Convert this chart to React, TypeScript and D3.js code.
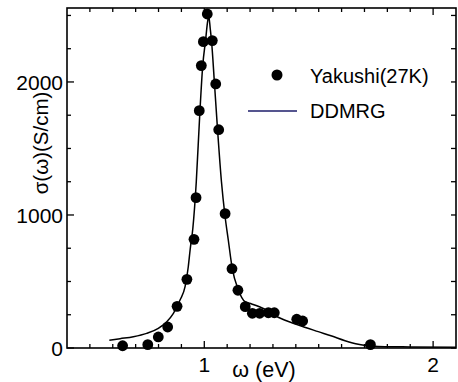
import React from "react";
import * as d3 from "d3";

const expOmega = [0.643, 0.753, 0.799, 0.84, 0.881, 0.924, 0.955, 0.964, 0.978, 0.987, 0.996, 1.013, 1.035, 1.05, 1.063, 1.091, 1.121, 1.147, 1.179, 1.21, 1.242, 1.28, 1.306, 1.404, 1.43, 1.726];
const expSigma = [17, 25, 83, 158, 313, 516, 817, 1130, 1784, 2123, 2303, 2511, 2311, 1985, 1641, 1010, 596, 434, 311, 261, 261, 265, 265, 216, 203, 25];

const thOmega = [0.585, 0.632, 0.69, 0.748, 0.799, 0.836, 0.865, 0.894, 0.916, 0.93, 0.938, 0.95, 0.965, 0.98, 0.993, 1.006, 1.015, 1.02, 1.026, 1.032, 1.044, 1.058, 1.075, 1.09, 1.105, 1.122, 1.149, 1.178, 1.207, 1.265, 1.323, 1.411, 1.498, 1.557, 1.615, 1.673, 1.732, 1.79, 1.9, 2.1];
const thSigma = [58, 70, 85, 110, 148, 198, 261, 361, 461, 611, 737, 900, 1250, 1750, 2120, 2320, 2460, 2490, 2400, 2300, 2000, 1640, 1250, 1000, 810, 600, 436, 348, 331, 291, 231, 173, 123, 90, 55, 28, 15, 10, 8, 5];

const xTickLabels = [1, 2];
const yTickLabels = [0, 1000, 2000];

const W = 458, H = 382;
const L = 67, R = 456, T = 8, B = 348;

export default function App() {
  const x = d3.scaleLinear().domain([0.4, 2.1]).range([L, R]);
  const y = d3.scaleLinear().domain([0, 2556]).range([B, T]);
  const line = d3
    .line<number>()
    .x((_, i) => x(thOmega[i]))
    .y((d) => y(d))
    .curve(d3.curveMonotoneX);

  const xMinor = d3.range(5, 21).map((v) => v / 10);
  const yMinor = d3.range(0, 2501, 250);
  const font = "Liberation Sans, Arial, sans-serif";

  return (
    <svg width={W} height={H} style={{ position: "absolute", left: 0, top: 0 }} fontFamily={font}>
      <rect x={0} y={0} width={W} height={H} fill="white" />
      {xMinor.map((v) => {
        const major = Math.abs(v - Math.round(v)) < 1e-6;
        const len = major ? 7 : 4;
        return (
          <g key={"xt" + v} stroke="black" strokeWidth={1.3}>
            <line x1={x(v)} x2={x(v)} y1={B} y2={B - len} />
            <line x1={x(v)} x2={x(v)} y1={T} y2={T + len} />
          </g>
        );
      })}
      {yMinor.map((v) => {
        const major = v % 1000 === 0;
        const len = major ? 7 : 4;
        return (
          <g key={"yt" + v} stroke="black" strokeWidth={1.3}>
            <line x1={L} x2={L + len} y1={y(v)} y2={y(v)} />
            <line x1={R} x2={R - 5} y1={y(v)} y2={y(v)} />
          </g>
        );
      })}
      <rect x={L} y={T} width={R - L} height={B - T} fill="none" stroke="black" strokeWidth={1.6} />
      {xTickLabels.map((v) => (
        <text key={"xl" + v} x={x(v)} y={372} fontSize={21} textAnchor="middle">
          {v}
        </text>
      ))}
      {yTickLabels.map((v) => (
        <text key={"yl" + v} x={63} y={y(v) + 8} fontSize={21} textAnchor="end">
          {v}
        </text>
      ))}
      <text x={264} y={377} fontSize={21.5} textAnchor="middle">
        ω (eV)
      </text>
      <text transform="translate(48,143) rotate(-90)" fontSize={20.5} textAnchor="middle">
        σ(ω)(S/cm)
      </text>
      <path d={line(thSigma) || ""} fill="none" stroke="black" strokeWidth={1.5} />
      {expOmega.map((w, i) => (
        <circle key={"p" + i} cx={x(w)} cy={y(expSigma[i])} r={5.4} fill="black" />
      ))}
      <circle cx={277} cy={75} r={5.5} fill="black" />
      <text x={310} y={83} fontSize={20}>
        Yakushi(27K)
      </text>
      <line x1={248} x2={297} y1={111} y2={111} stroke="#1c1c6a" strokeWidth={1.3} />
      <text x={310} y={118} fontSize={20}>
        DDMRG
      </text>
    </svg>
  );
}
